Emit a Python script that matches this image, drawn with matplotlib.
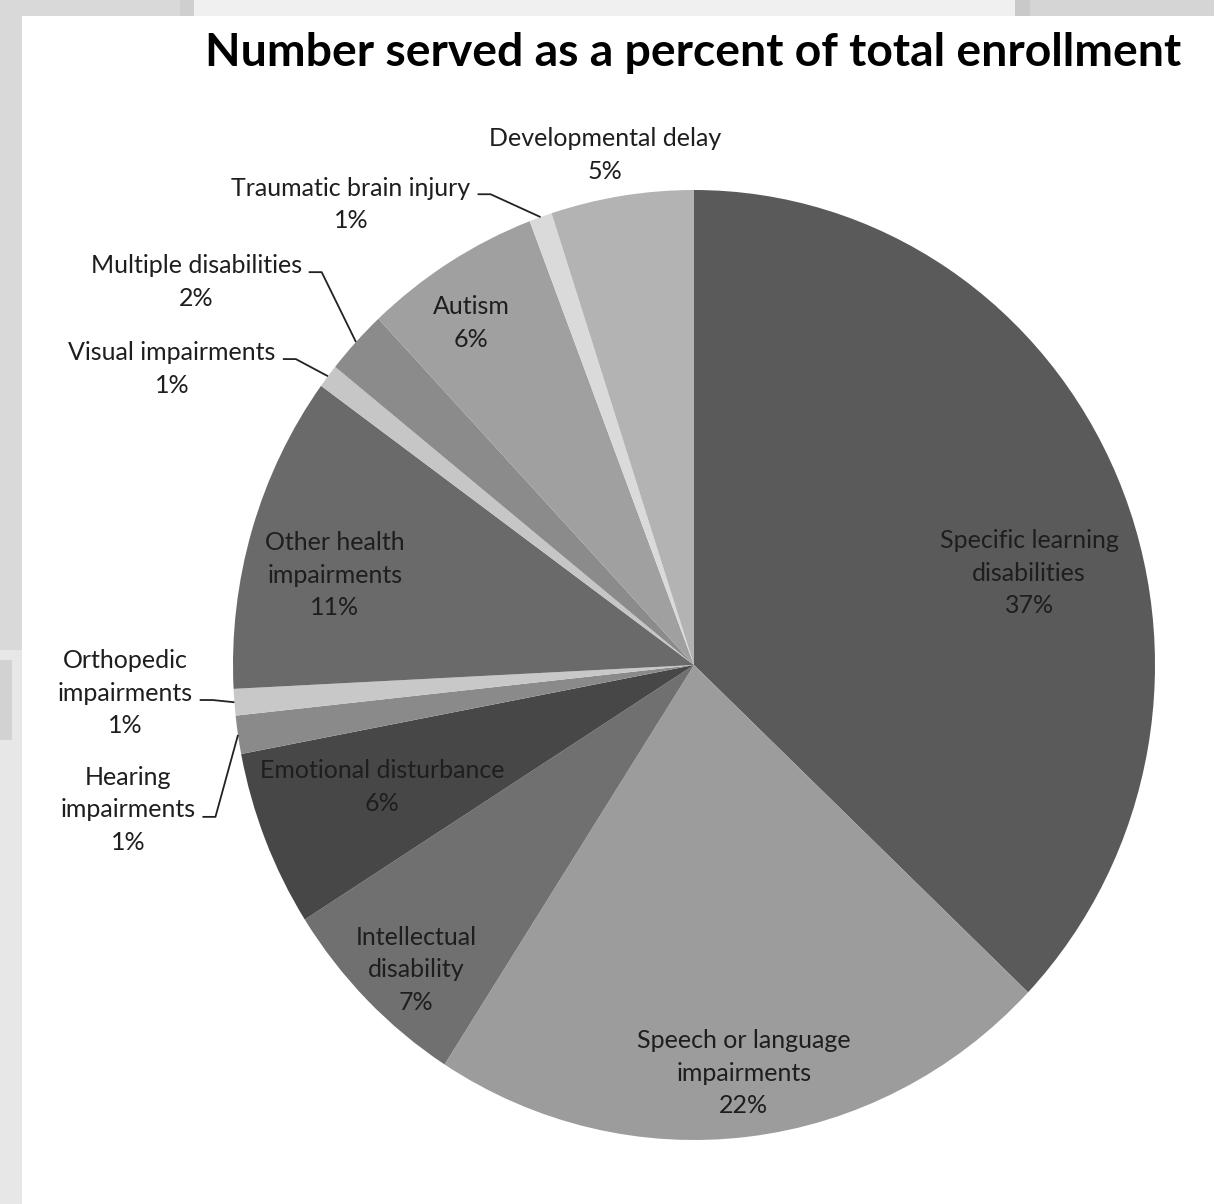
import matplotlib
matplotlib.use("Agg")
import matplotlib.pyplot as plt
from matplotlib.patches import Rectangle
import numpy as np

# values (percent of total enrollment)
categories = ["Specific learning\ndisabilities", "Speech or language\nimpairments",
              "Intellectual\ndisability", "Emotional disturbance", "Hearing\nimpairments",
              "Orthopedic\nimpairments", "Other health\nimpairments", "Visual impairments",
              "Multiple disabilities", "Autism", "Traumatic brain injury", "Developmental delay"]
values = [37.1, 22.0, 6.9, 6.0, 1.3, 0.9, 10.8, 0.8, 2.2, 6.2, 0.8, 5.0]
pct_labels = ["37%", "22%", "7%", "6%", "1%", "1%", "11%", "1%", "2%", "6%", "1%", "5%"]
colors = ["#5a5a5a", "#9c9c9c", "#707070", "#474747", "#8a8a8a", "#c8c8c8",
          "#6a6a6a", "#c6c6c6", "#8b8b8b", "#a0a0a0", "#dadada", "#b3b3b3"]

# label centres (pie radius = 1) and whether a leader line is drawn
label_pos = [(0.727, 0.193), (0.108, -0.859), (-0.603, -0.642), (-0.677, -0.257),
             (-1.228, -0.305), (-1.234, -0.059), (-0.779, 0.189), (-1.132, 0.623),
             (-1.080, 0.806), (-0.484, 0.720), (-0.744, 0.970), (-0.193, 1.074)]
leader = [False, False, False, False, True, True, False, True, True, False, True, False]

W, H = 1214, 1204
fig = plt.figure(figsize=(W / 100, H / 100), dpi=100)
fig.patch.set_facecolor("white")

def px_rect(x0, y0, x1, y1, c):
    fig.add_artist(Rectangle((x0 / W, 1 - y1 / H), (x1 - x0) / W, (y1 - y0) / H,
                             transform=fig.transFigure, color=c, lw=0, zorder=0))

# screenshot margins
px_rect(0, 0, 180, 16, "#d9d9d9")
px_rect(180, 0, 194, 16, "#cfcfcf")
px_rect(194, 0, 1015, 16, "#f0f0f0")
px_rect(1015, 0, 1030, 16, "#c9c9c9")
px_rect(1030, 0, W, 16, "#d5d5d5")
px_rect(0, 16, 22, 650, "#d9d9d9")
px_rect(0, 650, 22, H, "#e7e7e7")
px_rect(0, 660, 12, 740, "#d2d2d2")

rx_px, ry_px = 461, 475
ax = fig.add_axes([233 / W, 64 / H, 2 * rx_px / W, 2 * ry_px / H])
wedges, _ = ax.pie(values, colors=colors, startangle=90, counterclock=False,
                   wedgeprops=dict(linewidth=0))
ax.set_aspect("auto")
ax.set_xlim(-1, 1)
ax.set_ylim(-1, 1)
ax.axis("off")

fam = ["Lato", "DejaVu Sans"]
tcol = "#1e1e1e"
texts = []
for name, pct, (lx, ly) in zip(categories, pct_labels, label_pos):
    t = ax.text(lx, ly, name + "\n" + pct, ha="center", va="center", fontsize=18,
                family=fam, color=tcol, linespacing=1.5)
    texts.append(t)

fig.canvas.draw()
renderer = fig.canvas.get_renderer()
inv = ax.transData.inverted()
line_h = 34 / ry_px
for w, name, t, (lx, ly), ld in zip(wedges, categories, texts, label_pos, leader):
    if not ld:
        continue
    bb = t.get_window_extent(renderer)
    right = inv.transform((bb.x1, bb.y1))[0]
    mid = np.deg2rad((w.theta1 + w.theta2) / 2)
    rx, ry = np.cos(mid), np.sin(mid)
    nlines = name.count("\n") + 1
    # leader starts beside the last line of the category name
    y0 = ly + (nlines + 1) / 2 * line_h - (nlines - 0.5) * line_h - 7 / ry_px
    x0 = right + 7 / rx_px
    x1 = x0 + 13 / rx_px
    ax.plot([x0, x1, rx], [y0, y0, ry], color="#222222", lw=1.3,
            clip_on=False, solid_capstyle="butt")

fig.text(693.5 / W, 1 - 53 / H, "Number served as a percent of total enrollment",
         ha="center", va="center", fontsize=33.3, fontweight="bold", family=fam, color="black")

fig.savefig("out.png", dpi=100)
